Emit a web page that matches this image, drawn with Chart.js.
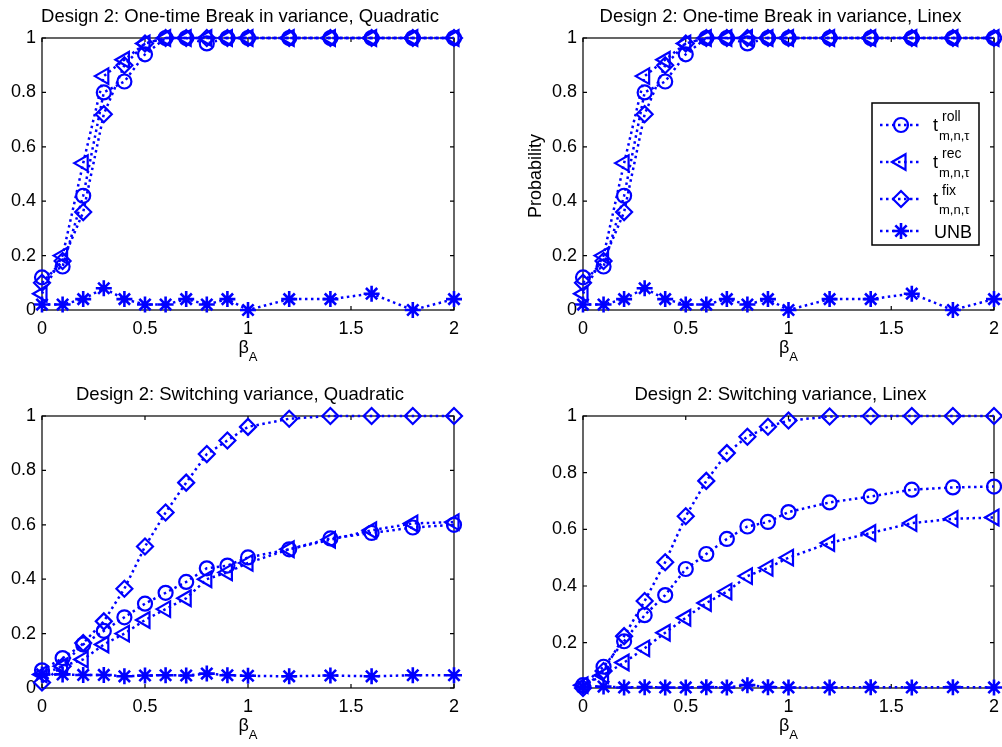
<!DOCTYPE html>
<html>
<head>
<meta charset="utf-8">
<script src="https://cdn.jsdelivr.net/npm/chart.js@4.4.0/dist/chart.umd.min.js"></script>
<style>
  body { margin: 0; background: #fff; width: 1002px; height: 747px; position: relative; overflow: hidden; }
  .painel { position: absolute; }
</style>
</head>
<body>
<div class="painel" style="left:0;top:0;width:501px;height:374px"><canvas id="g1"></canvas></div>
<div class="painel" style="left:501px;top:0;width:501px;height:374px"><canvas id="g2"></canvas></div>
<div class="painel" style="left:0;top:374px;width:501px;height:373px"><canvas id="g3"></canvas></div>
<div class="painel" style="left:501px;top:374px;width:501px;height:373px"><canvas id="g4"></canvas></div>
<script>
// ---------- dados ----------
const betaA = [0, 0.1, 0.2, 0.3, 0.4, 0.5, 0.6, 0.7, 0.8, 0.9, 1, 1.2, 1.4, 1.6, 1.8, 2];
const xTicks = [0, 0.5, 1, 1.5, 2];
const yTicks = [0, 0.2, 0.4, 0.6, 0.8, 1];
const yTicksSemZero = [0.2, 0.4, 0.6, 0.8, 1];

// Design 2: One-time Break in variance, Quadratic
const breakQuadRoll = [0.12, 0.16, 0.42, 0.80, 0.84, 0.94, 1, 1, 0.98, 1, 1, 1, 1, 1, 1, 1];
const breakQuadRec  = [0.06, 0.20, 0.54, 0.86, 0.92, 0.98, 1, 1, 1, 1, 1, 1, 1, 1, 1, 1];
const breakQuadFix  = [0.10, 0.18, 0.36, 0.72, 0.90, 0.98, 1, 1, 1, 1, 1, 1, 1, 1, 1, 1];
const breakQuadUnb  = [0.02, 0.02, 0.04, 0.08, 0.04, 0.02, 0.02, 0.04, 0.02, 0.04, 0, 0.04, 0.04, 0.06, 0, 0.04];

// Design 2: One-time Break in variance, Linex
const breakLinexRoll = [0.12, 0.16, 0.42, 0.80, 0.84, 0.94, 1, 1, 0.98, 1, 1, 1, 1, 1, 1, 1];
const breakLinexRec  = [0.06, 0.20, 0.54, 0.86, 0.92, 0.98, 1, 1, 1, 1, 1, 1, 1, 1, 1, 1];
const breakLinexFix  = [0.10, 0.18, 0.36, 0.72, 0.90, 0.98, 1, 1, 1, 1, 1, 1, 1, 1, 1, 1];
const breakLinexUnb  = [0.02, 0.02, 0.04, 0.08, 0.04, 0.02, 0.02, 0.04, 0.02, 0.04, 0, 0.04, 0.04, 0.06, 0, 0.04];

// Design 2: Switching variance, Quadratic
const switchQuadRoll = [0.065, 0.11, 0.16, 0.21, 0.26, 0.31, 0.35, 0.39, 0.44, 0.45, 0.48, 0.51, 0.55, 0.57, 0.59, 0.60];
const switchQuadRec  = [0.05, 0.08, 0.105, 0.16, 0.20, 0.25, 0.29, 0.33, 0.40, 0.425, 0.46, 0.51, 0.545, 0.58, 0.605, 0.61];
const switchQuadFix  = [0.02, 0.08, 0.165, 0.245, 0.365, 0.52, 0.645, 0.755, 0.86, 0.91, 0.96, 0.99, 1, 1, 1, 1];
const switchQuadUnb  = [0.05, 0.05, 0.048, 0.048, 0.043, 0.046, 0.047, 0.046, 0.053, 0.047, 0.045, 0.043, 0.046, 0.043, 0.047, 0.047];

// Design 2: Switching variance, Linex
const switchLinexRoll = [0.05, 0.115, 0.205, 0.297, 0.368, 0.46, 0.513, 0.566, 0.61, 0.626, 0.661, 0.695, 0.716, 0.74, 0.748, 0.751];
const switchLinexRec  = [0.05, 0.085, 0.13, 0.18, 0.235, 0.288, 0.34, 0.38, 0.435, 0.464, 0.50, 0.552, 0.587, 0.622, 0.637, 0.642];
const switchLinexFix  = [0.04, 0.10, 0.223, 0.347, 0.484, 0.646, 0.771, 0.869, 0.927, 0.962, 0.984, 0.998, 1, 1, 1, 1];
const switchLinexUnb  = [0.045, 0.045, 0.042, 0.043, 0.042, 0.042, 0.043, 0.042, 0.05, 0.043, 0.042, 0.042, 0.043, 0.042, 0.043, 0.042];

// ---------- estilo ----------
const azul = "#0000ff";
const fonte = "'Liberation Sans', Arial, Helvetica, sans-serif";
const tracejado = [2.5, 3.5];

const marcadores = [
  { nome: "roll", estilo: "circle",  rot: 0,   raio: 7 },
  { nome: "rec",  estilo: "triangle", rot: -90, raio: 9 },
  { nome: "fix",  estilo: "rectRot", rot: 0,   raio: 8 },
  { nome: "UNB",  estilo: "star",    rot: 0,   raio: 8 }
];

const rotuloNum = v => String(Math.round(v * 100) / 100);

function serie(m, valores) {
  return {
    label: m.nome,
    data: betaA.map((x, i) => ({ x, y: valores[i] })),
    borderColor: azul,
    borderWidth: 2.5,
    borderDash: tracejado,
    borderCapStyle: "butt",
    pointStyle: m.estilo,
    pointRotation: m.rot,
    pointRadius: m.raio,
    pointHoverRadius: m.raio,
    pointBorderWidth: m.estilo === "star" ? 2.6 : 2.2,
    pointBorderColor: azul,
    pointBackgroundColor: "rgba(0,0,0,0)",
    tension: 0,
    fill: false,
    clip: false
  };
}

// moldura estilo MATLAB: caixa, ticks para dentro, título, rótulos, legenda
const moldura = {
  id: "moldura",
  beforeDatasetsDraw(chart, args, opts) {
    const { ctx, chartArea: a, scales } = chart;
    ctx.save();
    ctx.strokeStyle = "#000";
    ctx.lineWidth = 1.2;
    ctx.setLineDash([]);
    ctx.strokeRect(a.left, a.top, a.right - a.left, a.bottom - a.top);
    ctx.beginPath();
    scales.x.ticks.forEach(t => {
      const px = scales.x.getPixelForValue(t.value);
      ctx.moveTo(px, a.bottom); ctx.lineTo(px, a.bottom - 4);
      ctx.moveTo(px, a.top); ctx.lineTo(px, a.top + 4);
    });
    scales.y.ticks.forEach(t => {
      const py = scales.y.getPixelForValue(t.value);
      ctx.moveTo(a.left, py); ctx.lineTo(a.left + 4, py);
      ctx.moveTo(a.right, py); ctx.lineTo(a.right - 4, py);
    });
    ctx.stroke();
    ctx.restore();
  },
  afterDraw(chart, args, opts) {
    const { ctx, chartArea: a } = chart;
    const cx = (a.left + a.right) / 2;
    ctx.save();
    ctx.fillStyle = "#000";
    ctx.textBaseline = "middle";

    // título
    ctx.font = "18.5px " + fonte;
    ctx.textAlign = "center";
    ctx.fillText(opts.titulo, cx - 8, a.top - 21.5);

    // rótulo x: beta com índice A
    ctx.textAlign = "left";
    ctx.font = "18px " + fonte;
    const wb = ctx.measureText("β").width;
    ctx.font = "13px " + fonte;
    const wa = ctx.measureText("A").width;
    const x0 = cx - (wb + wa) / 2;
    ctx.font = "18px " + fonte;
    ctx.fillText("β", x0, a.bottom + 38);
    ctx.font = "13px " + fonte;
    ctx.fillText("A", x0 + wb, a.bottom + 47);

    // rótulo y
    if (opts.rotuloY) {
      ctx.save();
      ctx.translate(a.left - 47, (a.top + a.bottom) / 2 + 2);
      ctx.rotate(-Math.PI / 2);
      ctx.textAlign = "center";
      ctx.font = "18px " + fonte;
      ctx.fillText(opts.rotuloY, 0, 0);
      ctx.restore();
    }

    // legenda
    if (opts.legenda) {
      const L = opts.legenda;
      ctx.fillStyle = "#fff";
      ctx.fillRect(L.x, L.y, L.w, L.h);
      ctx.strokeStyle = "#000";
      ctx.lineWidth = 1.5;
      ctx.strokeRect(L.x, L.y, L.w, L.h);
      const linhas = [L.y + 22, L.y + 59, L.y + 96, L.y + 128];
      marcadores.forEach((m, i) => {
        const yy = linhas[i];
        ctx.strokeStyle = azul;
        ctx.lineWidth = 2.5;
        ctx.setLineDash(tracejado);
        ctx.beginPath();
        ctx.moveTo(L.x + 8, yy);
        ctx.lineTo(L.x + 47, yy);
        ctx.stroke();
        ctx.setLineDash([]);
        ctx.lineWidth = m.estilo === "star" ? 2.6 : 2.2;
        ctx.fillStyle = "rgba(0,0,0,0)";
        Chart.helpers.drawPoint(ctx, {
          pointStyle: m.estilo, rotation: m.rot, radius: m.raio, borderWidth: ctx.lineWidth
        }, L.x + 29, yy);
        ctx.fillStyle = "#000";
        ctx.textAlign = "left";
        ctx.textBaseline = "alphabetic";
        if (m.nome === "UNB") {
          ctx.font = "18px " + fonte;
          ctx.fillText("UNB", L.x + 62, yy + 6.5);
        } else {
          ctx.font = "18px " + fonte;
          ctx.fillText("t", L.x + 61, yy + 6);
          ctx.font = "14px " + fonte;
          ctx.fillText(m.nome, L.x + 70, yy - 4);
          ctx.font = "13px " + fonte;
          ctx.fillText("m,n,τ", L.x + 67, yy + 15);
        }
      });
    }
    ctx.restore();
  }
};

function grafico(id, titulo, series, padding, opcoes) {
  const yMin = opcoes.yMin;
  const marcasY = opcoes.marcasY;
  return new Chart(document.getElementById(id), {
    type: "line",
    data: { datasets: series.map((v, i) => serie(marcadores[i], v)) },
    plugins: [moldura],
    options: {
      responsive: true,
      maintainAspectRatio: false,
      animation: false,
      layout: { padding, autoPadding: false },
      plugins: {
        legend: { display: false },
        tooltip: { enabled: false },
        moldura: { titulo, rotuloY: opcoes.rotuloY, legenda: opcoes.legenda }
      },
      scales: {
        x: {
          type: "linear", min: 0, max: 2,
          afterBuildTicks: s => { s.ticks = xTicks.map(v => ({ value: v })); },
          afterFit: s => { s.height = 40; s.paddingLeft = 0; s.paddingRight = 0; },
          grid: { display: false, drawTicks: false },
          border: { display: false },
          ticks: { color: "#000", padding: 8, font: { family: fonte, size: 18 }, callback: rotuloNum }
        },
        y: {
          type: "linear", min: yMin, max: 1,
          afterBuildTicks: s => { s.ticks = marcasY.map(v => ({ value: v })); },
          afterFit: s => { s.width = 42; s.paddingTop = 0; s.paddingBottom = 0; },
          grid: { display: false, drawTicks: false },
          border: { display: false },
          ticks: { color: "#000", padding: 6, font: { family: fonte, size: 18 }, callback: rotuloNum }
        }
      }
    }
  });
}

grafico("g1", "Design 2: One-time Break in variance, Quadratic",
  [breakQuadRoll, breakQuadRec, breakQuadFix, breakQuadUnb],
  { top: 38, left: 0, right: 47, bottom: 24 },
  { yMin: 0, marcasY: yTicks });

grafico("g2", "Design 2: One-time Break in variance, Linex",
  [breakLinexRoll, breakLinexRec, breakLinexFix, breakLinexUnb],
  { top: 38, left: 40, right: 8, bottom: 24 },
  { yMin: 0, marcasY: yTicks, rotuloY: "Probability",
    legenda: { x: 371, y: 103, w: 107, h: 142 } });

grafico("g3", "Design 2: Switching variance, Quadratic",
  [switchQuadRoll, switchQuadRec, switchQuadFix, switchQuadUnb],
  { top: 42, left: 0, right: 47, bottom: 19 },
  { yMin: 0, marcasY: yTicks });

grafico("g4", "Design 2: Switching variance, Linex",
  [switchLinexRoll, switchLinexRec, switchLinexFix, switchLinexUnb],
  { top: 42, left: 40, right: 8, bottom: 19 },
  { yMin: 0.04, marcasY: yTicksSemZero });
</script>
</body>
</html>
